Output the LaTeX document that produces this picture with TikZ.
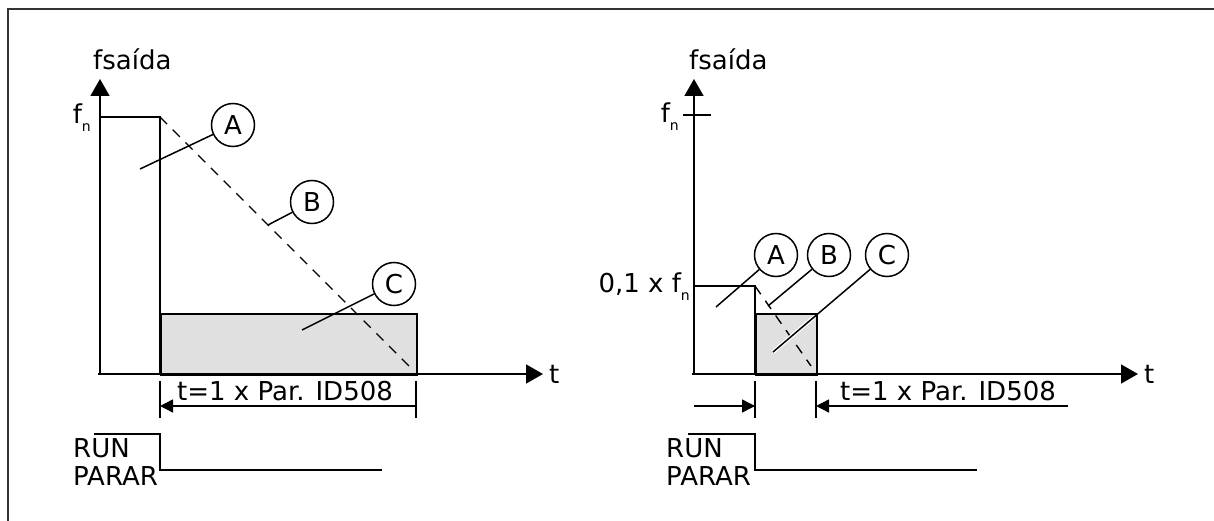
\documentclass[tikz,border=0pt]{standalone}
\usepackage{fontspec}
\setmainfont{DejaVu Sans}
\usetikzlibrary{positioning, arrows.meta}

\newcommand{\fnsub}{f\raisebox{-8pt}{\fontsize{14}{16}\selectfont n}}

\begin{document}
\begin{tikzpicture}[
  x=1pt, y=-1pt,
  txt/.style={font=\fontsize{26}{30}\selectfont, inner sep=0pt},
  callout/.style={draw, circle, minimum size=43pt, inner sep=0pt, fill=white,
                  line width=1.5pt, font=\fontsize{26}{30}\selectfont},
  axis/.style={line width=1.6pt, -{Triangle[length=17pt, width=19pt]}},
  sig/.style={line width=1.5pt},
  ramp/.style={line width=1.4pt, dash pattern=on 10pt off 8pt},
  lead/.style={line width=1.5pt},
  halo/.style={white, line width=4pt},
  hold/.style={draw, line width=1.5pt, fill=black!12},
  dimarr/.style={line width=1.4pt, -{Triangle[length=13pt, width=13pt]}},
  tick/.style={line width=1.4pt},
  frame/.style={line width=2.4pt, draw=black!80},
]
\useasboundingbox (0,0) rectangle (1214,521);

% Frame
\draw[frame] (8,521) -- (8,9) -- (1214,9);

%%%%% Left: ramp stop with DC brake

% Axes
\coordinate (lo) at (100,374);
\coordinate (lytip) at (100,79);
\coordinate (lxtip) at (543,374);
\node[txt, anchor=base west] (lyl) at (93,70) {fsaída};
\node[txt, right=6pt of lxtip] (lxl) {t};

% Brake area
\node[hold, minimum width=256pt, minimum height=61pt, anchor=north west] (lbrk) at (160,313) {};

% Output before stop
\coordinate (lfn) at (100,117);
\coordinate (lstop) at (160,117);
\draw[sig] (lfn) -- (lstop) -- (160,374);
\node[txt, anchor=base east] (lfnl) at (91,124) {\fnsub};

% Ramp that is not used
\coordinate (lend) at (410,367);
\draw[ramp] (lstop) -- (lend);

\draw[axis] (98,374) -- (lxtip);
\draw[axis] (lo) -- (lytip);

% Callouts
\node[callout] (lA) at (233,125) {A};
\node[callout] (lB) at (312,202) {B};
\node[callout] (lC) at (394,284) {C};
\coordinate (la) at (140,169);
\coordinate (lb) at (268,225);
\coordinate (lc) at (302,330);
\draw[lead] (la) -- (lA);
\draw[lead] (lb) -- (lB);
\draw[lead] (lc) -- (lC);

% Brake time
\draw[tick] (160,381) -- (160,418);
\draw[tick] (416,381) -- (416,418);
\coordinate (ld1) at (160,406);
\coordinate (ld2) at (416,406);
\draw[dimarr, {Triangle[length=13pt, width=13pt]}-] (ld1) -- (ld2);
\node[txt, anchor=base] (ltime) at (285,400) {t=1 x Par. ID508};

% Run signal
\node[txt, anchor=base west] (lrun) at (73,457) {RUN};
\node[txt, anchor=base west] (lpar) at (73,485) {PARAR};
\draw[sig] (94,434) -- (160,434) -- (160,470) -- (382,470);

%%%%% Right: stop below 0,1 x fn

% Axes
\coordinate (ro) at (694,374);
\coordinate (rytip) at (694,79);
\coordinate (rxtip) at (1138,374);
\node[txt, anchor=base west] (ryl) at (689,70) {fsaída};
\node[txt, right=6pt of rxtip] (rxl) {t};

% Brake area
\node[hold, minimum width=61pt, minimum height=61pt, anchor=north west] (rbrk) at (755,313) {};

% Output before stop
\coordinate (rlow) at (694,286);
\coordinate (rstop) at (755,286);
\draw[sig] (rlow) -- (rstop) -- (755,374);
\node[txt, anchor=base east] (rlowl) at (690,292) {0,1 x \fnsub};
\draw[sig] (683,115) -- (711,115);
\node[txt, anchor=base east] (rfnl) at (679,123) {\fnsub};

\coordinate (rend) at (811,366);
\draw[ramp] (rstop) -- (rend);

\draw[axis] (692,374) -- (rxtip);
\draw[axis] (ro) -- (rytip);

% Callouts
\node[callout] (rA) at (776,255) {A};
\node[callout] (rB) at (829,255) {B};
\node[callout] (rC) at (887,255) {C};
\coordinate (ra) at (716,307);
\coordinate (rb) at (768,306);
\coordinate (rc) at (773,352);
\draw[lead] (ra) -- (rA);
\draw[lead] (rb) -- (rB);
\begin{scope}
  \clip (757,315) rectangle (814,372);
  \draw[halo] (rc) -- (rC);
\end{scope}
\draw[lead] (rc) -- (rC);

% Brake time
\draw[tick] (755,381) -- (755,418);
\draw[tick] (816,381) -- (816,418);
\coordinate (rd0) at (694,406);
\coordinate (rd1) at (755,406);
\coordinate (rd2) at (816,406);
\coordinate (rd3) at (1068,406);
\draw[dimarr] (rd0) -- (rd1);
\draw[dimarr] (rd3) -- (rd2);
\node[txt, anchor=base] (rtime) at (948,400) {t=1 x Par. ID508};

% Run signal
\node[txt, anchor=base west] (rrun) at (666,457) {RUN};
\node[txt, anchor=base west] (rpar) at (666,485) {PARAR};
\draw[sig] (688,434) -- (755,434) -- (755,470) -- (977,470);

\end{tikzpicture}
\end{document}
